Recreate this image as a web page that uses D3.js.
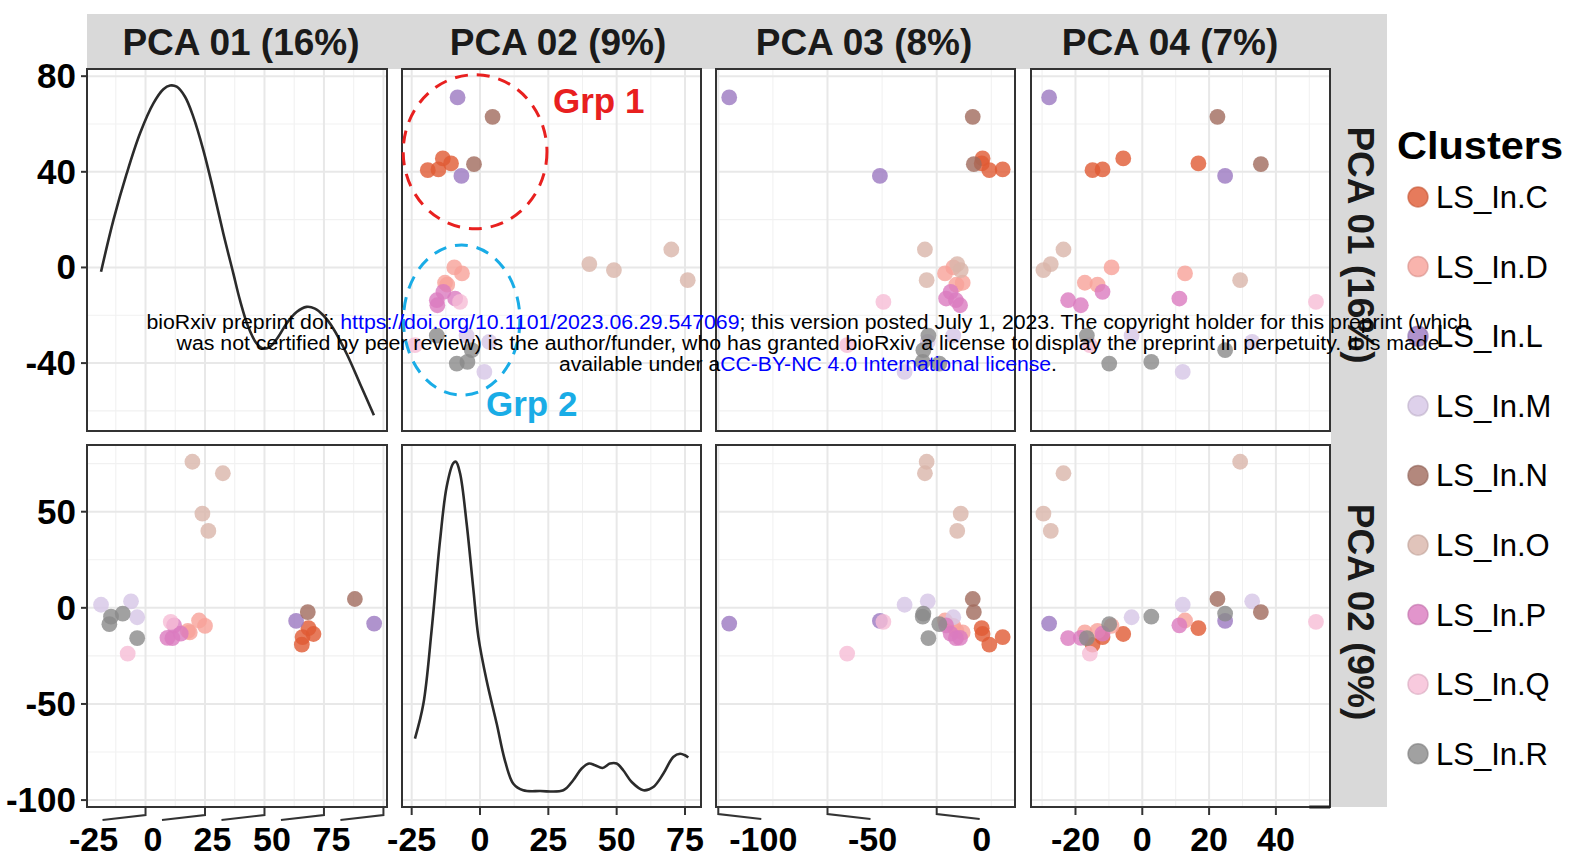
<!DOCTYPE html>
<html>
<head>
<meta charset="utf-8">
<script src="https://cdn.jsdelivr.net/npm/d3@7"></script>
<style>
  body { margin: 0; background: #fff; }
  svg { display: block; }
  text { font-family: "Liberation Sans", Arial, Helvetica, sans-serif; }
</style>
</head>
<body>
<svg id="chart" width="1572" height="860"></svg>
<script>
// ---- cluster legend ----
const clusterNames = ["LS_In.C", "LS_In.D", "LS_In.L", "LS_In.M", "LS_In.N", "LS_In.O", "LS_In.P", "LS_In.Q", "LS_In.R"];
const clusterColors = ["#E05A33", "#F7A199", "#9B78C0", "#D6C6E6", "#A06A5C", "#D9B5AA", "#DB7BBF", "#F6BDD6", "#8A8A8A"];

// ---- samples: cluster and scores on the first four components ----
const sampleCluster = [
  "LS_In.C", "LS_In.C", "LS_In.C", "LS_In.C",
  "LS_In.D", "LS_In.D", "LS_In.D", "LS_In.D",
  "LS_In.L", "LS_In.L",
  "LS_In.M", "LS_In.M", "LS_In.M",
  "LS_In.N", "LS_In.N",
  "LS_In.O", "LS_In.O", "LS_In.O", "LS_In.O",
  "LS_In.P", "LS_In.P", "LS_In.P", "LS_In.P",
  "LS_In.Q", "LS_In.Q",
  "LS_In.R", "LS_In.R", "LS_In.R", "LS_In.R"
];
const pca01 = [40.7, 41.0, 45.6, 43.5,  0.0, -2.5, -6.4, -7.2,  71.1, 38.3,  -43.7, -31.1, -28.5,  63.0, 43.2,
               1.4, -1.1, 7.5, -5.3,  -10.2, -13.7, -15.8, -13.0,  -32.5, -14.4,  -28.5, -34.6, -40.2, -39.5];
const pca02 = [-19.1, -15.2, -13.6, -10.6,  -9.4, -6.6, -12.8, -12.0,  -8.2, -6.8,  1.6, 3.4, -4.9,  4.6, -2.2,
               40, 49, 70, 76,  -13.4, -15.8, -15.6, -9.1,  -23.8, -7.3,  -15.8, -3.0, -8.5, -4.6];
const pca03 = [24.1, 30.2, 21.0, 20.6,  7.6, 3.8, 11.9, 9.0,  -95, -26,  -14.7, -4.1, 7.6,  16.5, 17.0,
               9.4, 11.0, -5.4, -4.6,  6.4, 8.8, 10.7, 4.3,  -41, -24.4,  -3.8, -6.1, 1.2, -6.4];
const pca04 = [-14.9, -11.9, -5.7, 16.8,  -9.2, 12.8, -17.2, -13.4,  -27.9, 24.8,  12.1, 32.9, -3.2,  22.5, 35.5,
               -27.4, -29.6, -23.6, 29.3,  -11.9, -22.2, -18.4, 11.1,  -15.7, 52,  -16.6, 24.8, -9.9, 2.7];

const pcaLabels = ["PCA 01 (16%)", "PCA 02 (9%)", "PCA 03 (8%)", "PCA 04 (7%)"];

// ---- diagonal density curves (x in component units, height in the row's axis units) ----
const densityPca01X = [-43.7, -38.5, -32.9, -27.3, -21.7, -17.5, -14.7, -11.9, -8.4, -4.9, -0.7, 3.5, 7.7, 11.9, 14.7,
                       18.2, 21.7, 24.5, 27.3, 30.8, 34.3, 38.5, 42.7, 46.2, 49.7, 53.9, 59.5, 65.1, 71.0];
const densityPca01Y = [-1.8, 19.8, 39.3, 56.1, 68.6, 74.5, 76.1, 75.6, 71.4, 63.0, 49.1, 32.3, 14.2, -2.5, -13.7,
                       -24.9, -31.8, -33.9, -33.2, -29.0, -23.4, -18.6, -16.5, -17.2, -20.0, -25.5, -36.0, -48.5, -61.8];
const densityPca02X = [-23.8, -20.7, -17.7, -14.6, -12.2, -9.8, -8.8, -7.3, -4.9, -2.4, -0.6, 2.4, 6.1, 9.1, 12.2,
                       15.8, 22.0, 30.5, 34.1, 37.2, 39.9, 42.1, 44.8, 47.6, 50.0, 52.4, 55.5, 59.8, 63.4, 67.1,
                       70.7, 73.2, 75.0, 76.2];
const densityPca02Y = [-68.0, -49.8, -11.6, 35.3, 63.0, 75.2, 76.0, 70.0, 44.0, 9.2, -15.1, -37.7, -60.2, -79.3, -91.5,
                       -94.9, -95.3, -94.9, -89.7, -83.6, -81.0, -81.9, -83.3, -81.0, -81.0, -84.5, -90.6, -94.9, -93.2, -86.2,
                       -77.6, -75.9, -76.7, -77.9];

// ---- axis breaks ----
const ticksPca01 = [-25, 0, 25, 50, 75];
const minorPca01 = [-37.5, -12.5, 12.5, 37.5, 62.5];
const ticksPca02 = [-25, 0, 25, 50, 75];
const minorPca02 = [-12.5, 12.5, 37.5, 62.5];
const ticksPca03 = [-100, -50, 0];
const minorPca03 = [-75, -25, 25];
const ticksPca04 = [-20, 0, 20, 40];
const minorPca04 = [-30, -10, 10, 30, 50];
const ticksRow1 = [80, 40, 0, -40];
const minorRow1 = [60, 20, -20, -60];
const ticksRow2 = [50, 0, -50, -100];
const minorRow2 = [75, 25, -25, -75];

// ---- group annotations on the PCA02 x PCA01 panel (data units) ----
const groupNames = ["Grp 1", "Grp 2"];
const groupColors = ["#E8201F", "#19ACE6"];
const groupCenterX = [-1.8, -6.7];   // PCA02
const groupCenterY = [48.4, -22.0];  // PCA01
const groupRadiusX = [26.3, 21.3];
const groupRadiusY = [32.2, 31.4];

// ================= drawing =================
const svg = d3.select("#chart");

const colX = [[87, 387], [402, 701], [716, 1015], [1031, 1330]];
const rowY = [[69, 431], [445, 807]];
const stripCenterX = [241, 558, 864, 1170];
const stripCenterY = [245, 612];

const xScales = [
  d3.scaleLinear().domain([-49.6, 76.5]).range(colX[0]),
  d3.scaleLinear().domain([-28.54, 80.86]).range(colX[1]),
  d3.scaleLinear().domain([-101.05, 35.85]).range(colX[2]),
  d3.scaleLinear().domain([-33.32, 56.2]).range(colX[3])
];
const yScales = [
  d3.scaleLinear().domain([-68.4, 83]).range([rowY[0][1], rowY[0][0]]),
  d3.scaleLinear().domain([-103.6, 84.7]).range([rowY[1][1], rowY[1][0]])
];
const xTicks = [ticksPca01, ticksPca02, ticksPca03, ticksPca04];
const xMinor = [minorPca01, minorPca02, minorPca03, minorPca04];
const yTicks = [ticksRow1, ticksRow2];
const yMinor = [minorRow1, minorRow2];
const scores = [pca01, pca02, pca03, pca04];
const color = d3.scaleOrdinal().domain(clusterNames).range(clusterColors);

// strips
svg.append("rect").attr("x", 87).attr("y", 14).attr("width", 1387 - 87).attr("height", 55).attr("fill", "#d9d9d9");
svg.append("rect").attr("x", 1331).attr("y", 14).attr("width", 1387 - 1331).attr("height", 807 - 14).attr("fill", "#d9d9d9");

pcaLabels.forEach((lab, c) => {
  svg.append("text")
    .attr("x", stripCenterX[c]).attr("y", 55)
    .attr("text-anchor", "middle").attr("font-size", 37).attr("font-weight", "bold")
    .attr("fill", "#1a1a1a").text(lab);
});
[pcaLabels[0], pcaLabels[1]].forEach((lab, r) => {
  svg.append("text")
    .attr("transform", `translate(1348,${stripCenterY[r]}) rotate(90)`)
    .attr("text-anchor", "middle").attr("font-size", 37).attr("font-weight", "bold")
    .attr("fill", "#1a1a1a").text(lab);
});

const defs = svg.append("defs");

for (let r = 0; r < 2; r++) {
  for (let c = 0; c < 4; c++) {
    const xs = xScales[c], ys = yScales[r];
    const [x0, x1] = colX[c], [y0, y1] = rowY[r];
    const g = svg.append("g");
    const clipId = `clip-${r}-${c}`;
    defs.append("clipPath").attr("id", clipId)
      .append("rect").attr("x", x0).attr("y", y0).attr("width", x1 - x0).attr("height", y1 - y0);

    g.append("rect").attr("x", x0).attr("y", y0).attr("width", x1 - x0).attr("height", y1 - y0).attr("fill", "#fff");
    const grid = g.append("g").attr("clip-path", `url(#${clipId})`);
    // minor grid
    grid.selectAll(".vmin").data(xMinor[c]).join("line")
      .attr("x1", d => xs(d)).attr("x2", d => xs(d)).attr("y1", y0).attr("y2", y1)
      .attr("stroke", "#f1f1f1").attr("stroke-width", 1.1);
    grid.selectAll(".hmin").data(yMinor[r]).join("line")
      .attr("y1", d => ys(d)).attr("y2", d => ys(d)).attr("x1", x0).attr("x2", x1)
      .attr("stroke", "#f1f1f1").attr("stroke-width", 1.1);
    // major grid
    grid.selectAll(".vmaj").data(xTicks[c]).join("line")
      .attr("x1", d => xs(d)).attr("x2", d => xs(d)).attr("y1", y0).attr("y2", y1)
      .attr("stroke", "#e8e8e8").attr("stroke-width", 2);
    grid.selectAll(".hmaj").data(yTicks[r]).join("line")
      .attr("y1", d => ys(d)).attr("y2", d => ys(d)).attr("x1", x0).attr("x2", x1)
      .attr("stroke", "#e8e8e8").attr("stroke-width", 2);

    const plot = g.append("g").attr("clip-path", `url(#${clipId})`);
    if (r === c) {
      const dx = r === 0 ? densityPca01X : densityPca02X;
      const dy = r === 0 ? densityPca01Y : densityPca02Y;
      const line = d3.line().x(d => xs(d[0])).y(d => ys(d[1])).curve(d3.curveCatmullRom.alpha(0.5));
      plot.append("path").datum(d3.zip(dx, dy)).attr("d", line)
        .attr("fill", "none").attr("stroke", "#2b2b2b").attr("stroke-width", 2.6);
    } else {
      const pts = sampleCluster.map((cl, i) => ({ cl, x: scores[c][i], y: scores[r][i] }));
      plot.selectAll("circle").data(pts).join("circle")
        .attr("cx", d => xs(d.x)).attr("cy", d => ys(d.y)).attr("r", 7.9)
        .attr("fill", d => color(d.cl)).attr("fill-opacity", 0.8);
    }
    g.append("rect").attr("x", x0).attr("y", y0).attr("width", x1 - x0).attr("height", y1 - y0)
      .attr("fill", "none").attr("stroke", "#333").attr("stroke-width", 2);
  }
}

// left axes
for (let r = 0; r < 2; r++) {
  const ys = yScales[r];
  const ax = svg.append("g");
  ax.selectAll("line").data(yTicks[r]).join("line")
    .attr("x1", 81).attr("x2", 87).attr("y1", d => ys(d)).attr("y2", d => ys(d))
    .attr("stroke", "#333").attr("stroke-width", 2);
  ax.selectAll("text").data(yTicks[r]).join("text")
    .attr("x", 76).attr("y", d => ys(d) + 12).attr("text-anchor", "end")
    .attr("font-size", 35).attr("font-weight", "bold").attr("fill", "#000")
    .text(d => String(d));
}

// bottom axes (two columns have bent tick marks)
const tickStyle = ["bentLeft", "plain", "bentRight", "plain"];
const yb = rowY[1][1];
for (let c = 0; c < 4; c++) {
  const xs = xScales[c];
  const ax = svg.append("g");
  ax.selectAll("path").data(xTicks[c]).join("path")
    .attr("d", d => {
      const tx = xs(d);
      if (tickStyle[c] === "bentLeft") return `M${tx},${yb}V${yb + 8}L${tx - 43},${yb + 13}`;
      if (tickStyle[c] === "bentRight") return `M${tx},${yb}V${yb + 7}L${tx + 43},${yb + 12}`;
      return `M${tx},${yb}V${yb + 8}`;
    })
    .attr("fill", "none").attr("stroke", "#333").attr("stroke-width", 2);
  const shift = tickStyle[c] === "bentLeft" ? -52 : tickStyle[c] === "bentRight" ? 45 : 0;
  ax.selectAll("text").data(xTicks[c]).join("text")
    .attr("x", d => xs(d) + shift).attr("y", 851).attr("text-anchor", "middle")
    .attr("font-size", 34).attr("font-weight", "bold").attr("fill", "#000")
    .text(d => String(d));
}
svg.append("line").attr("x1", xScales[3](minorPca04[4])).attr("x2", colX[3][1]).attr("y1", yb).attr("y2", yb)
  .attr("stroke", "#222").attr("stroke-width", 3);

// group annotations
const gx = xScales[1], gy = yScales[0];
groupNames.forEach((name, i) => {
  const cx = gx(groupCenterX[i]), cy = gy(groupCenterY[i]);
  svg.append("ellipse")
    .attr("cx", cx).attr("cy", cy)
    .attr("rx", gx(groupCenterX[i] + groupRadiusX[i]) - cx)
    .attr("ry", cy - gy(groupCenterY[i] + groupRadiusY[i]))
    .attr("fill", "none").attr("stroke", groupColors[i]).attr("stroke-width", 3)
    .attr("stroke-dasharray", "13 9");
});
svg.append("text").attr("x", 553).attr("y", 113).attr("font-size", 35).attr("font-weight", "bold")
  .attr("fill", groupColors[0]).text(groupNames[0]);
svg.append("text").attr("x", 486).attr("y", 416).attr("font-size", 35).attr("font-weight", "bold")
  .attr("fill", groupColors[1]).text(groupNames[1]);

// legend
svg.append("text").attr("x", 1397).attr("y", 159).attr("font-size", 38).attr("font-weight", "bold")
  .attr("fill", "#000").attr("textLength", 166).attr("lengthAdjust", "spacingAndGlyphs").text("Clusters");
const leg = svg.append("g");
clusterNames.forEach((name, i) => {
  const cy = 197 + i * 69.6;
  leg.append("circle").attr("cx", 1418).attr("cy", cy).attr("r", 10)
    .attr("fill", clusterColors[i]).attr("fill-opacity", 0.8)
    .attr("stroke", d3.color(clusterColors[i]).darker(0.4)).attr("stroke-opacity", 0.6).attr("stroke-width", 1.5);
  leg.append("text").attr("x", 1436).attr("y", cy + 11).attr("font-size", 31).attr("fill", "#000").text(name);
});

// preprint notice
const notice = svg.append("g").attr("font-size", 19.5);
const l1 = notice.append("text").attr("x", 808).attr("y", 329).attr("text-anchor", "middle")
  .attr("textLength", 1323).attr("lengthAdjust", "spacingAndGlyphs");
l1.append("tspan").attr("fill", "#000").text("bioRxiv preprint doi: ");
l1.append("tspan").attr("fill", "#0000ff").text("https://doi.org/10.1101/2023.06.29.547069");
l1.append("tspan").attr("fill", "#000").text("; this version posted July 1, 2023. The copyright holder for this preprint (which");
notice.append("text").attr("x", 808).attr("y", 350).attr("text-anchor", "middle")
  .attr("textLength", 1263).attr("lengthAdjust", "spacingAndGlyphs").attr("fill", "#000")
  .text("was not certified by peer review) is the author/funder, who has granted bioRxiv a license to display the preprint in perpetuity. It is made");
const l3 = notice.append("text").attr("x", 808).attr("y", 371).attr("text-anchor", "middle")
  .attr("textLength", 498).attr("lengthAdjust", "spacingAndGlyphs");
l3.append("tspan").attr("fill", "#000").text("available under a");
l3.append("tspan").attr("fill", "#0000ff").text("CC-BY-NC 4.0 International license");
l3.append("tspan").attr("fill", "#000").text(".");
</script>
</body>
</html>
